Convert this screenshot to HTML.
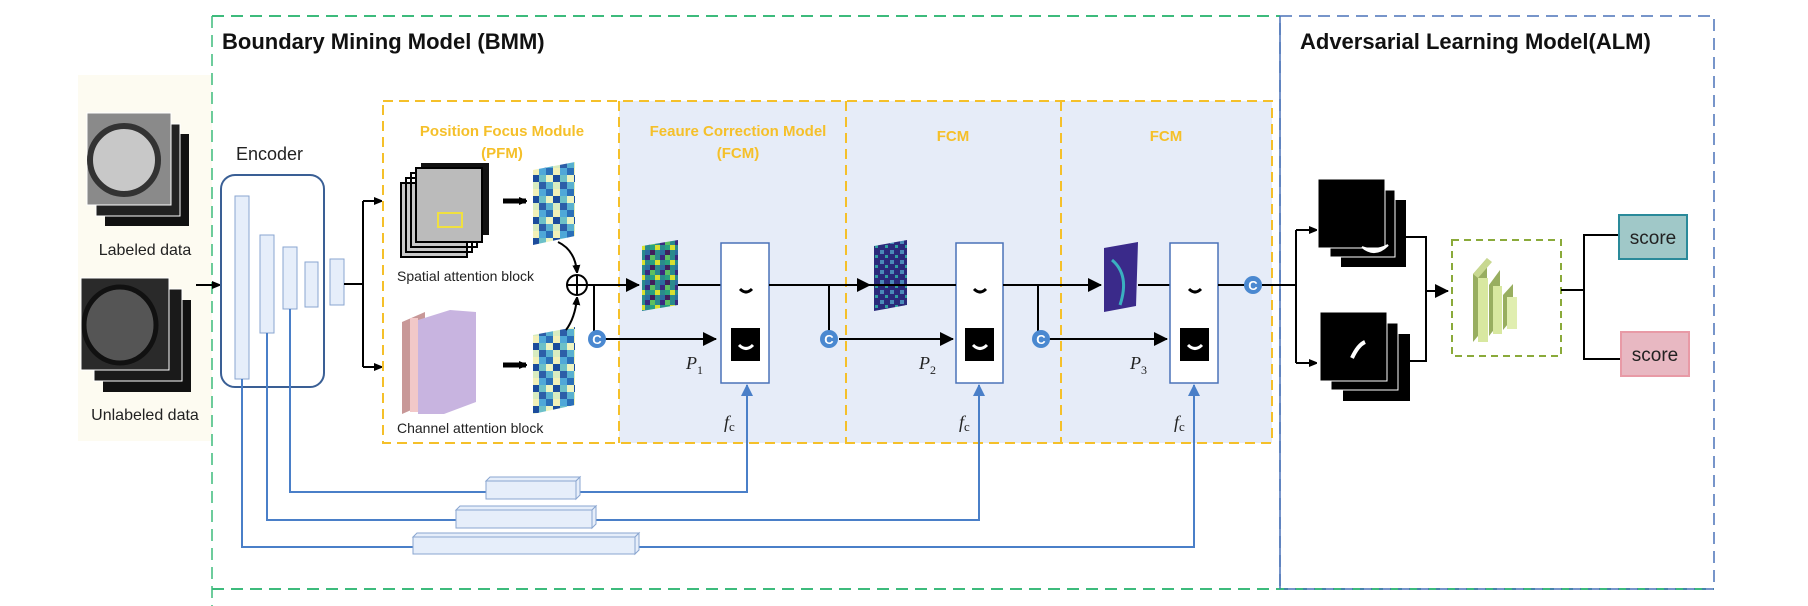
<!DOCTYPE html>
<html><head><meta charset="utf-8"><style>
html,body{margin:0;padding:0;background:#fff;}
svg{display:block;font-family:"Liberation Sans",sans-serif;}
</style></head><body>
<svg width="1808" height="606" viewBox="0 0 1808 606" xmlns="http://www.w3.org/2000/svg">
<defs>
<marker id="ab" markerWidth="8" markerHeight="8" refX="7" refY="4" orient="auto" markerUnits="userSpaceOnUse"><path d="M0,0 L10,4 L0,8 z" fill="#000"/></marker>
<marker id="abl" markerWidth="12" markerHeight="12" refX="11" refY="6" orient="auto" markerUnits="userSpaceOnUse"><path d="M0,0 L12,6 L0,12 z" fill="#4a7fc8"/></marker>
<marker id="ak" markerWidth="14" markerHeight="14" refX="13" refY="7" orient="auto" markerUnits="userSpaceOnUse"><path d="M0,0 L14,7 L0,14 z" fill="#000"/></marker>
<pattern id="hm" width="21" height="21" patternUnits="userSpaceOnUse">
<rect width="21" height="21" fill="#8fd0c8"/>
<rect x="0" y="0" width="7" height="7" fill="#2a6fb8"/><rect x="7" y="0" width="7" height="7" fill="#f2f0b8"/><rect x="14" y="0" width="7" height="7" fill="#4fa8d8"/>
<rect x="0" y="7" width="7" height="7" fill="#eef4c0"/><rect x="7" y="7" width="7" height="7" fill="#1c4c9c"/><rect x="14" y="7" width="7" height="7" fill="#6cc0c8"/>
<rect x="0" y="14" width="7" height="7" fill="#58b0d0"/><rect x="7" y="14" width="7" height="7" fill="#d8ecc0"/><rect x="14" y="14" width="7" height="7" fill="#2c5ea8"/>
</pattern>
<pattern id="fm" width="15" height="15" patternUnits="userSpaceOnUse">
<rect width="15" height="15" fill="#2a8a8c"/>
<rect x="0" y="0" width="5" height="5" fill="#3a2a80"/><rect x="5" y="0" width="5" height="5" fill="#5cc060"/><rect x="10" y="5" width="5" height="5" fill="#d8e030"/>
<rect x="0" y="10" width="5" height="5" fill="#2c6ca0"/><rect x="5" y="10" width="5" height="5" fill="#40205c"/><rect x="5" y="5" width="5" height="5" fill="#28a080"/>
</pattern>
<pattern id="fm2" width="10" height="10" patternUnits="userSpaceOnUse">
<rect width="10" height="10" fill="#2a2a7a"/><rect x="0" y="0" width="4" height="4" fill="#4a8ab8"/><rect x="5" y="5" width="3" height="3" fill="#30a0a0"/>
</pattern>
</defs>

<!-- outer boxes -->
<rect x="78" y="75" width="134" height="366" fill="#fdfbf1"/>
<path d="M212,16 H1280" stroke="#3dbb7c" stroke-width="2" stroke-dasharray="12,7" fill="none"/>
<path d="M212,16 V606" stroke="#3dbb7c" stroke-width="1.5" stroke-dasharray="12,7" fill="none"/>
<path d="M212,589 H1714" stroke="#3dbb7c" stroke-width="2" stroke-dasharray="12,7" fill="none"/>
<rect x="1280" y="16" width="434" height="573" fill="none" stroke="#4a72b8" stroke-width="1.5" stroke-dasharray="12,7"/>
<line x1="1280" y1="16" x2="1280" y2="589" stroke="#4a72b8" stroke-width="1.5"/>
<text x="222" y="49" font-size="22" font-weight="bold" fill="#111">Boundary Mining Model (BMM)</text>
<text x="1300" y="49" font-size="22" font-weight="bold" fill="#111">Adversarial Learning Model(ALM)</text>

<!-- input data -->
<g>
<rect x="105" y="134" width="84" height="92" fill="#111"/>
<rect x="96" y="124" width="84" height="92" fill="#222" stroke="#fff" stroke-width="1"/>
<rect x="87" y="113" width="84" height="92" fill="#8a8a8a" stroke="#fff" stroke-width="1"/>
<circle cx="124" cy="160" r="34" fill="#c8c8c8" stroke="#333" stroke-width="6"/>
<text x="145" y="255" font-size="16" text-anchor="middle" fill="#222">Labeled data</text>
<rect x="103" y="300" width="88" height="92" fill="#111"/>
<rect x="94" y="289" width="88" height="92" fill="#1a1a1a" stroke="#fff"/>
<rect x="81" y="278" width="88" height="92" fill="#2a2a2a" stroke="#fff"/>
<ellipse cx="120" cy="325" rx="36" ry="38" fill="#555" stroke="#111" stroke-width="5"/>
<text x="145" y="420" font-size="16" text-anchor="middle" fill="#222">Unlabeled data</text>
</g>
<line x1="196" y1="285" x2="219" y2="285" stroke="#000" stroke-width="2" marker-end="url(#ab)"/>

<!-- encoder -->
<text x="236" y="160" font-size="18" fill="#222">Encoder</text>
<rect x="221" y="175" width="103" height="212" rx="14" fill="none" stroke="#3a5f95" stroke-width="2"/>
<g fill="#e6eefa" stroke="#8aa6d0" stroke-width="1">
<rect x="235" y="196" width="14" height="183"/>
<rect x="260" y="235" width="14" height="98"/>
<rect x="283" y="247" width="14" height="62"/>
<rect x="305" y="262" width="13" height="45"/>
<rect x="330" y="259" width="14" height="46"/>
</g>
<line x1="344" y1="284" x2="363" y2="284" stroke="#000" stroke-width="2"/>
<line x1="363" y1="201" x2="363" y2="367" stroke="#000" stroke-width="2"/>
<line x1="363" y1="201" x2="381" y2="201" stroke="#000" stroke-width="2" marker-end="url(#ab)"/>
<line x1="363" y1="367" x2="381" y2="367" stroke="#000" stroke-width="2" marker-end="url(#ab)"/>

<!-- PFM / FCM boxes -->
<rect x="619" y="101" width="653" height="342" fill="#e6ecf8"/>
<rect x="383" y="101" width="889" height="342" fill="none" stroke="#f5c02a" stroke-width="2" stroke-dasharray="10,6"/>
<line x1="619" y1="101" x2="619" y2="443" stroke="#f5c02a" stroke-width="2" stroke-dasharray="10,6"/>
<line x1="846" y1="101" x2="846" y2="443" stroke="#f5c02a" stroke-width="2" stroke-dasharray="10,6"/>
<line x1="1061" y1="101" x2="1061" y2="443" stroke="#f5c02a" stroke-width="2" stroke-dasharray="10,6"/>
<g font-size="15" font-weight="bold" fill="#f5c02a" text-anchor="middle">
<text x="502" y="136">Position Focus Module</text>
<text x="502" y="158">(PFM)</text>
<text x="738" y="136">Feaure Correction  Model</text>
<text x="738" y="158">(FCM)</text>
<text x="953" y="141">FCM</text>
<text x="1166" y="141">FCM</text>
</g>

<!-- spatial attention -->
<rect x="421" y="163" width="68" height="72" fill="#111"/>
<rect x="401" y="183" width="66" height="74" fill="#c8c8c8" stroke="#000" stroke-width="2"/>
<rect x="406" y="178" width="66" height="74" fill="none" stroke="#000" stroke-width="2"/>
<rect x="411" y="173" width="66" height="74" fill="none" stroke="#000" stroke-width="2"/>
<rect x="416" y="168" width="66" height="74" fill="#bbb" stroke="#000" stroke-width="2"/>
<rect x="438" y="213" width="24" height="14" fill="none" stroke="#f0e040" stroke-width="2"/>
<text x="397" y="281" font-size="14" fill="#222">Spatial attention block</text>
<line x1="503" y1="201" x2="526" y2="201" stroke="#000" stroke-width="5" marker-end="url(#ab)"/>
<polygon points="533,170 575,162 575,236 533,245" fill="url(#hm)"/>
<path d="M558,242 Q575,250 577,272" fill="none" stroke="#000" stroke-width="2" marker-end="url(#ab)"/>

<!-- channel attention -->
<polygon points="402,322 425,312 425,404 402,414" fill="#c89898"/>
<rect x="410" y="318" width="8" height="94" fill="#f2c8c8"/>
<polygon points="418,320 450,310 476,312 476,402 444,414 418,414" fill="#c8b4e0"/>
<text x="397" y="433" font-size="14" fill="#222">Channel attention block</text>
<line x1="503" y1="365" x2="526" y2="365" stroke="#000" stroke-width="5" marker-end="url(#ab)"/>
<polygon points="533,335 575,327 575,405 533,414" fill="url(#hm)"/>
<path d="M566,330 Q575,318 577,298" fill="none" stroke="#000" stroke-width="2" marker-end="url(#ab)"/>
<circle cx="577" cy="285" r="10" fill="#fff" stroke="#000" stroke-width="2"/>
<line x1="567" y1="285" x2="587" y2="285" stroke="#000" stroke-width="2"/>
<line x1="577" y1="275" x2="577" y2="295" stroke="#000" stroke-width="2"/>

<!-- main path -->
<line x1="587" y1="285" x2="639" y2="285" stroke="#000" stroke-width="2" marker-end="url(#ak)"/>
<line x1="594" y1="285" x2="594" y2="339" stroke="#000" stroke-width="2"/>
<line x1="604" y1="339" x2="716" y2="339" stroke="#000" stroke-width="2" marker-end="url(#ak)"/>
<polygon points="642,246 678,240 678,305 642,311" fill="url(#fm)"/>
<line x1="678" y1="285" x2="870" y2="285" stroke="#000" stroke-width="2" marker-end="url(#ak)"/>
<line x1="829" y1="285" x2="829" y2="339" stroke="#000" stroke-width="2"/>
<line x1="839" y1="339" x2="953" y2="339" stroke="#000" stroke-width="2" marker-end="url(#ak)"/>
<polygon points="874,246 907,240 907,305 874,311" fill="url(#fm2)"/>
<line x1="907" y1="285" x2="1101" y2="285" stroke="#000" stroke-width="2" marker-end="url(#ak)"/>
<line x1="1038" y1="285" x2="1038" y2="339" stroke="#000" stroke-width="2"/>
<line x1="1048" y1="339" x2="1167" y2="339" stroke="#000" stroke-width="2" marker-end="url(#ak)"/>
<polygon points="1104,248 1138,242 1136,306 1104,312" fill="#3a2a8a"/>
<path d="M1112,260 Q1130,275 1120,305" stroke="#3ab0c0" stroke-width="3" fill="none"/>
<line x1="1138" y1="285" x2="1253" y2="285" stroke="#000" stroke-width="2"/>

<!-- FCM boxes -->
<g>
<rect x="721" y="243" width="48" height="140" fill="#fff" stroke="#4a72b8" stroke-width="1.5"/>
<rect x="731" y="271" width="29" height="27" fill="#fff"/><path d="M740,289 Q746,295 752,289" stroke="#000" stroke-width="3" fill="none"/>
<rect x="731" y="328" width="29" height="33" fill="#000"/><path d="M739,345 Q746,352 753,345" stroke="#fff" stroke-width="3" fill="none"/>
<rect x="956" y="243" width="47" height="140" fill="#fff" stroke="#4a72b8" stroke-width="1.5"/>
<rect x="965" y="271" width="29" height="27" fill="#fff"/><path d="M974,289 Q980,295 986,289" stroke="#000" stroke-width="3" fill="none"/>
<rect x="965" y="328" width="29" height="33" fill="#000"/><path d="M973,345 Q980,352 987,345" stroke="#fff" stroke-width="3" fill="none"/>
<rect x="1170" y="243" width="48" height="140" fill="#fff" stroke="#4a72b8" stroke-width="1.5"/>
<rect x="1180" y="271" width="29" height="27" fill="#fff"/><path d="M1189,289 Q1195,295 1201,289" stroke="#000" stroke-width="3" fill="none"/>
<rect x="1180" y="328" width="29" height="33" fill="#000"/><path d="M1188,345 Q1195,352 1202,345" stroke="#fff" stroke-width="3" fill="none"/>
</g>
<line x1="769" y1="285" x2="956" y2="285" stroke="#000" stroke-width="2"/>
<line x1="1003" y1="285" x2="1040" y2="285" stroke="#000" stroke-width="2"/>
<line x1="1218" y1="285" x2="1244" y2="285" stroke="#000" stroke-width="2"/>

<!-- C circles -->
<g font-size="13" font-weight="bold" fill="#fff" text-anchor="middle">
<circle cx="597" cy="339" r="9" fill="#4a88d0"/><text x="597" y="344">C</text>
<circle cx="829" cy="339" r="9" fill="#4a88d0"/><text x="829" y="344">C</text>
<circle cx="1041" cy="339" r="9" fill="#4a88d0"/><text x="1041" y="344">C</text>
<circle cx="1253" cy="285" r="9" fill="#4a88d0"/><text x="1253" y="290">C</text>
</g>

<g font-family="Liberation Serif,serif" font-style="italic" font-size="18" fill="#222">
<text x="686" y="369">P<tspan font-size="12" font-style="normal" dy="5">1</tspan></text>
<text x="919" y="369">P<tspan font-size="12" font-style="normal" dy="5">2</tspan></text>
<text x="1130" y="369">P<tspan font-size="12" font-style="normal" dy="5">3</tspan></text>
<text x="724" y="428">f<tspan font-size="13" font-style="normal" dy="3">c</tspan></text>
<text x="959" y="428">f<tspan font-size="13" font-style="normal" dy="3">c</tspan></text>
<text x="1174" y="428">f<tspan font-size="13" font-style="normal" dy="3">c</tspan></text>
</g>

<!-- skip connections -->
<g stroke="#4a7fc8" stroke-width="2" fill="none">
<path d="M290,309 V492 H747 V385" marker-end="url(#abl)"/>
<path d="M267,333 V520 H979 V385" marker-end="url(#abl)"/>
<path d="M242,379 V547 H1194 V385" marker-end="url(#abl)"/>
</g>
<g fill="#e6eefa" stroke="#8aa6d0" stroke-width="1">
<rect x="486" y="481" width="90" height="18"/><polygon points="486,481 490,477 580,477 576,481" /><polygon points="576,481 580,477 580,495 576,499"/>
<rect x="456" y="510" width="136" height="18"/><polygon points="456,510 460,506 596,506 592,510"/><polygon points="592,510 596,506 596,524 592,528"/>
<rect x="413" y="537" width="222" height="17"/><polygon points="413,537 417,533 639,533 635,537"/><polygon points="635,537 639,533 639,550 635,554"/>
</g>

<!-- ALM -->
<line x1="1262" y1="285" x2="1296" y2="285" stroke="#000" stroke-width="2"/>
<line x1="1296" y1="230" x2="1296" y2="363" stroke="#000" stroke-width="2"/>
<line x1="1296" y1="230" x2="1316" y2="230" stroke="#000" stroke-width="2" marker-end="url(#ab)"/>
<line x1="1296" y1="363" x2="1316" y2="363" stroke="#000" stroke-width="2" marker-end="url(#ab)"/>
<rect x="1341" y="200" width="65" height="67" fill="#000"/>
<rect x="1330" y="190" width="65" height="67" fill="#000" stroke="#fff"/>
<rect x="1318" y="179" width="67" height="69" fill="#000" stroke="#fff"/>
<path d="M1362,247 Q1375,258 1388,245 Q1375,252 1362,247z" fill="#fff" stroke="#fff" stroke-width="2"/>
<rect x="1343" y="334" width="67" height="67" fill="#000"/>
<rect x="1331" y="323" width="67" height="67" fill="#000" stroke="#fff"/>
<rect x="1320" y="312" width="67" height="69" fill="#000" stroke="#fff"/>
<path d="M1352,358 Q1358,345 1365,342" stroke="#fff" stroke-width="4" fill="none"/>
<g stroke="#000" stroke-width="2" fill="none">
<path d="M1406,237 H1426 V361 H1410"/>
</g>
<line x1="1426" y1="291" x2="1448" y2="291" stroke="#000" stroke-width="2" marker-end="url(#ak)"/>
<rect x="1452" y="240" width="109" height="116" fill="none" stroke="#8aaa3a" stroke-width="2" stroke-dasharray="7,5"/>
<g>
<polygon points="1473,274 1487,258 1487,325 1473,342" fill="#98ae60"/>
<polygon points="1473,274 1487,258 1492,262 1478,278" fill="#c8d890"/>
<rect x="1478" y="278" width="10" height="64" fill="#d8e8a0"/>
<polygon points="1489,285 1500,270 1500,322 1489,336" fill="#98ae60"/>
<rect x="1493" y="286" width="9" height="48" fill="#d8e8a0"/>
<polygon points="1503,295 1513,284 1513,318 1503,330" fill="#98ae60"/>
<rect x="1507" y="297" width="10" height="32" fill="#e0eeb0"/>
</g>
<g stroke="#000" stroke-width="2" fill="none">
<path d="M1561,290 H1584"/>
<path d="M1619,235 H1584 V359 H1621"/>
</g>
<rect x="1619" y="215" width="68" height="44" fill="#a0c8c8" stroke="#2a8a9a" stroke-width="2"/>
<text x="1653" y="244" font-size="19" text-anchor="middle" fill="#222">score</text>
<rect x="1621" y="332" width="68" height="44" fill="#e8b8c2" stroke="#e89aa6" stroke-width="2"/>
<text x="1655" y="361" font-size="19" text-anchor="middle" fill="#222">score</text>
</svg>
</body></html>
